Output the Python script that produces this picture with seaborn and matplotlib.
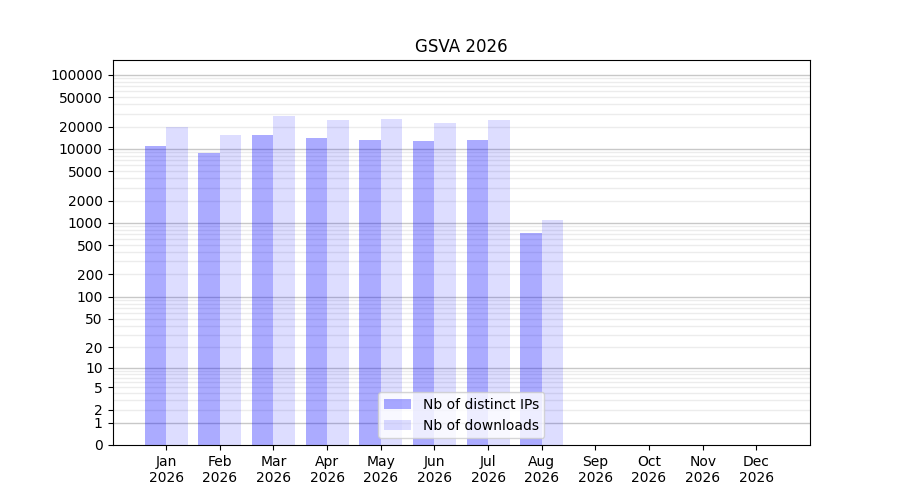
import numpy as np
import pandas as pd
import seaborn as sns
import matplotlib
matplotlib.use('Agg')
import matplotlib.pyplot as plt

months = ['Jan', 'Feb', 'Mar', 'Apr', 'May', 'Jun', 'Jul', 'Aug', 'Sep', 'Oct', 'Nov', 'Dec']
year = '2026'
distinct_ips = [10900, 8740, 15300, 13940, 13100, 12690, 13100, 725]
downloads = [19630, 15300, 27630, 24390, 25170, 22220, 24390, 1086]
ytick_values = [0, 1, 2, 5, 10, 20, 50, 100, 200, 500, 1000, 2000, 5000,
                10000, 20000, 50000, 100000]

n = len(distinct_ips)
df = pd.DataFrame({
    'month': months[:n] * 2,
    'value': distinct_ips + downloads,
    'series': ['Nb of distinct IPs'] * n + ['Nb of downloads'] * n,
})

fig, ax = plt.subplots(figsize=(9, 5), dpi=100)

sns.barplot(data=df, x='month', y='value', hue='series', order=months,
            palette=['#0000ff', '#0000ff'], saturation=1, ax=ax, zorder=2,
            legend=False)

# alpha per series
alphas = {'Nb of distinct IPs': 0.33, 'Nb of downloads': 0.135}
for cont, label in zip(ax.containers, alphas):
    for p in cont:
        p.set_alpha(alphas[label])
    cont.set_label(label)

def fwd(y):
    return np.log10(1 + np.clip(y, 0, None))

def inv(t):
    return 10 ** t - 1

ax.set_yscale('function', functions=(fwd, inv))
ax.set_ylim(0, inv(5.2))
ax.set_xlim(-1, 12)

# grid: darker at powers of ten, light in between
for k in range(0, 6):
    for m in range(1, 10):
        v = m * 10 ** k
        if v > 150000:
            break
        if m == 1:
            ax.axhline(v, color='#c8c8c8', lw=1, zorder=1)
        else:
            ax.axhline(v, color='#ececec', lw=1, zorder=1)

ax.set_yticks(ytick_values)
ax.set_yticklabels([str(v) for v in ytick_values])
ax.yaxis.set_minor_locator(matplotlib.ticker.NullLocator())
ax.set_xticks(range(12))
ax.set_xticklabels([f'{m}\n{year}' for m in months])

ax.set_xlabel('')
ax.set_ylabel('')
ax.set_title('GSVA 2026')

ax.legend(handles=list(ax.containers), labels=list(alphas), loc='lower center')

plt.savefig('out.png')
